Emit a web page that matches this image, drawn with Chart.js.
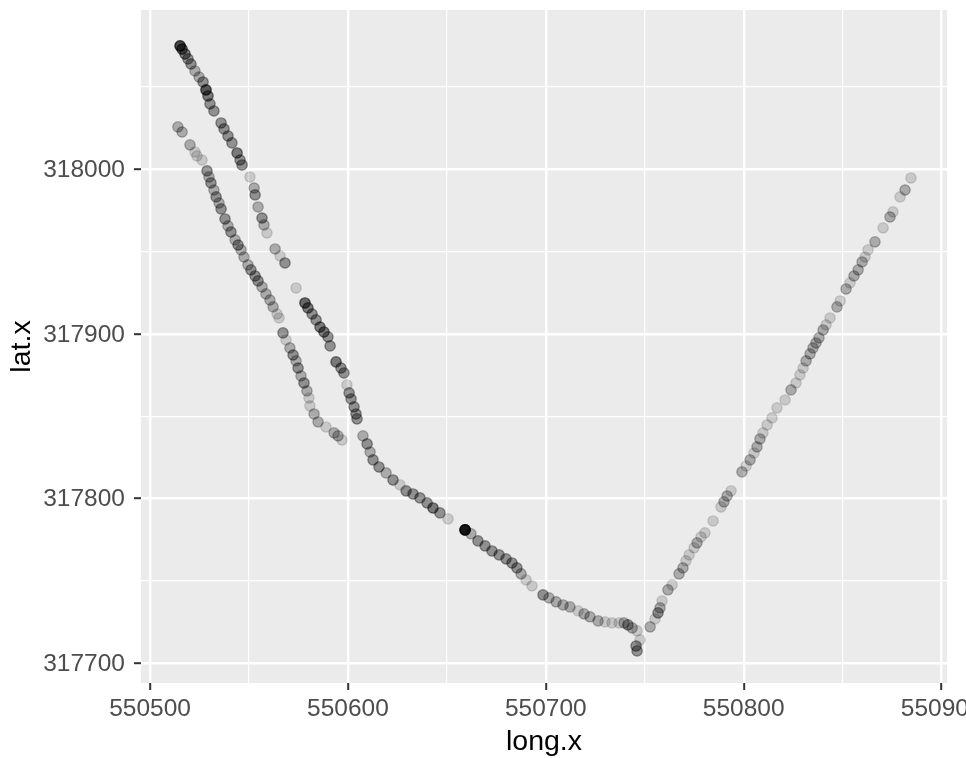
<!DOCTYPE html>
<html>
<head>
<meta charset="utf-8">
<title>lat.x vs long.x</title>
<script src="https://cdn.jsdelivr.net/npm/chart.js@4.4.1/dist/chart.umd.min.js"></script>
<style>
  html, body { margin: 0; padding: 0; background: #ffffff; overflow: hidden; }
  canvas { display: block; }
</style>
</head>
<body>
<canvas id="track" width="966" height="758"></canvas>
<script>
// GPS fixes along the track (projected coordinates).
// nFix = number of fixes logged at (almost) the same spot; stacked
// translucent markers make the stationary stretches look darker.
const longX = [
  // upper western leg, heading south-east
  550515.2, 550516.2, 550517.7, 550519.2, 550520.7, 550522.7, 550524.8, 550526.8,
  550528.3, 550529.3, 550530.3, 550532.3, 550535.9, 550537.4, 550539.4, 550541.4,
  550544.0, 550545.5, 550546.5, 550550.5, 550552.6, 550553.1, 550554.6, 550556.6,
  550557.6, 550559.1, 550563.2, 550565.7, 550568.2, 550573.8, 550578.3, 550579.8,
  550581.9, 550583.9, 550585.9, 550587.9, 550589.9, 550591.0, 550594.0, 550596.5,
  550598.0, 550599.5, 550600.6, 550601.6, 550603.1, 550604.1, 550604.6, 550607.6,
  550609.7, 550611.2, 550612.7, 550615.7, 550619.3, 550622.8, 550626.3, 550629.4,
  550632.9, 550636.4, 550640.0, 550643.0, 550646.5, 550650.6, 550659.2, 550662.2,
  550665.7, 550669.3, 550672.8, 550676.4, 550679.9, 550682.9, 550685.4, 550687.5,
  550690.0, 550693.0, 550698.6, 550701.6, 550705.2, 550708.7, 550712.2, 550716.3,
  550719.3, 550722.3, 550726.4, 550729.9, 550733.4, 550737.0, 550739.5, 550741.5,
  550743.6, 550746.1, 550747.6, 550745.6, 550746.1,
  // eastern leg, heading north-east
  550752.7, 550755.2, 550756.7, 550757.7, 550758.7, 550761.7, 550763.8, 550767.3,
  550769.3, 550770.8, 550772.4, 550774.9, 550776.4, 550778.4, 550780.4, 550784.5,
  550788.5, 550790.0, 550791.6, 550793.6, 550799.1, 550801.2, 550803.2, 550805.2,
  550806.7, 550808.2, 550809.7, 550811.8, 550814.3, 550816.8, 550820.9, 550823.9,
  550826.4, 550828.4, 550830.0, 550831.5, 550833.5, 550835.0, 550836.5, 550838.0,
  550840.1, 550841.6, 550843.6, 550847.1, 550848.7, 550851.7, 550853.7, 550855.7,
  550857.8, 550859.8, 550861.3, 550862.8, 550866.3, 550870.4, 550873.9, 550875.4,
  550879.0, 550881.5, 550884.5,
  // lower western leg
  550514.1, 550516.2, 550520.2, 550522.7, 550523.7, 550526.3, 550528.8, 550529.8,
  550530.8, 550532.3, 550533.4, 550534.9, 550535.9, 550537.9, 550539.4, 550540.9,
  550543.0, 550544.5, 550546.0, 550547.5, 550549.5, 550551.0, 550553.1, 550554.6,
  550556.6, 550558.6, 550560.6, 550562.2, 550564.2, 550565.2, 550567.2, 550568.7,
  550570.7, 550572.3, 550573.8, 550574.8, 550576.3, 550577.8, 550579.3, 550580.3,
  550580.8, 550582.9, 550584.9, 550588.9, 550593.0, 550595.0, 550597.0
];
const latX = [
  318074.9, 318073.0, 318070.0, 318067.0, 318063.9, 318059.7, 318056.0, 318053.0,
  318048.2, 318044.5, 318039.7, 318035.4, 318028.1, 318024.5, 318020.2, 318016.0,
  318009.9, 318005.6, 318002.6, 317995.3, 317988.6, 317984.4, 317977.1, 317970.4,
  317966.2, 317961.3, 317951.6, 317947.4, 317943.1, 317927.9, 317918.8, 317915.8,
  317912.1, 317908.5, 317904.2, 317901.2, 317898.2, 317892.7, 317883.0, 317879.3,
  317876.3, 317869.0, 317864.2, 317860.5, 317855.7, 317851.4, 317848.4, 317838.1,
  317833.2, 317828.3, 317823.5, 317819.2, 317815.6, 317811.3, 317808.3, 317804.7,
  317802.8, 317800.4, 317797.4, 317794.3, 317791.3, 317787.7, 317781.0, 317778.6,
  317774.3, 317771.3, 317768.2, 317765.8, 317763.4, 317760.9, 317757.9, 317754.3,
  317750.6, 317747.0, 317741.5, 317739.7, 317737.3, 317735.4, 317734.2, 317731.8,
  317730.0, 317728.2, 317725.7, 317725.1, 317724.5, 317724.5, 317724.5, 317723.3,
  317721.5, 317719.7, 317714.2, 317710.5, 317707.5,
  317722.1, 317726.9, 317730.6, 317733.6, 317737.9, 317744.6, 317747.6, 317754.3,
  317757.9, 317762.2, 317765.8, 317770.1, 317773.1, 317776.7, 317779.2, 317786.4,
  317794.9, 317798.0, 317801.6, 317804.7, 317816.2, 317819.8, 317823.5, 317827.7,
  317831.4, 317836.2, 317839.9, 317844.7, 317849.0, 317855.1, 317859.9, 317866.0,
  317870.2, 317875.1, 317879.3, 317883.6, 317887.9, 317891.5, 317894.5, 317897.6,
  317902.4, 317905.5, 317909.7, 317916.4, 317920.0, 317927.3, 317931.0, 317935.2,
  317938.9, 317943.7, 317946.7, 317951.0, 317955.9, 317964.4, 317971.0, 317974.1,
  317983.2, 317987.4, 317994.7,
  318025.7, 318022.6, 318014.8, 318010.5, 318008.1, 318005.6, 317999.0, 317995.3,
  317991.7, 317987.4, 317983.2, 317979.5, 317975.9, 317969.8, 317965.6, 317961.9,
  317957.1, 317954.0, 317951.0, 317946.7, 317941.9, 317938.9, 317935.2, 317932.2,
  317928.5, 317924.3, 317920.6, 317916.4, 317912.1, 317909.7, 317900.6, 317896.4,
  317891.5, 317887.2, 317883.6, 317879.3, 317874.5, 317870.2, 317865.4, 317861.1,
  317856.3, 317851.4, 317846.6, 317843.5, 317839.9, 317838.1, 317835.6
];
const nFix = [
  7, 5, 4, 3, 3, 2, 2, 3,
  6, 4, 3, 3, 3, 3, 3, 3,
  4, 3, 3, 1, 2, 3, 2, 3,
  2, 1, 2, 1, 3, 1, 5, 4,
  3, 3, 4, 4, 3, 3, 4, 3,
  3, 1, 3, 3, 3, 3, 3, 2,
  3, 2, 3, 3, 2, 3, 1, 3,
  3, 3, 3, 4, 3, 1, 14, 2,
  3, 3, 3, 3, 3, 3, 3, 2,
  1, 1, 3, 2, 2, 2, 2, 1,
  2, 2, 2, 1, 1, 1, 2, 3,
  2, 1, 1, 3, 3,
  2, 1, 3, 2, 1, 2, 1, 2,
  2, 1, 1, 1, 2, 1, 1, 1,
  1, 2, 2, 1, 2, 1, 2, 1,
  2, 2, 1, 1, 1, 1, 1, 2,
  1, 1, 1, 2, 2, 2, 2, 2,
  2, 1, 1, 2, 1, 2, 1, 2,
  2, 2, 1, 1, 2, 1, 2, 1,
  1, 2, 1,
  2, 2, 2, 1, 1, 1, 3, 2,
  3, 2, 3, 2, 3, 3, 2, 3,
  2, 3, 2, 2, 2, 3, 3, 3,
  2, 2, 2, 2, 1, 1, 3, 1,
  2, 3, 2, 3, 2, 3, 2, 1,
  1, 2, 2, 1, 2, 2, 1
];

// axis extents and labelled ticks
const xRange = [550495.45, 550902.7];
const yRange = [317688.0, 318096.7];
const xTickLabels = [550500, 550600, 550700, 550800, 550900];
const yTickLabels = [317700, 317800, 317900, 318000];

const points = [];
longX.forEach((x, i) => {
  for (let k = 0; k < nFix[i]; k++) points.push({ x: x, y: latX[i] });
});

const FONT = "'Liberation Sans', Arial, Helvetica, sans-serif";

// grey panel behind the grid
const panelBackground = {
  id: 'panelBackground',
  beforeDraw(chart) {
    const { ctx, chartArea: a } = chart;
    ctx.save();
    ctx.fillStyle = '#EBEBEB';
    ctx.fillRect(a.left, a.top, a.right - a.left, a.bottom - a.top);
    ctx.restore();
  }
};

// white major/minor grid; tick marks only at labelled values
function gridFor(labels) {
  return {
    color: '#FFFFFF',
    lineWidth: c => (c.tick && labels.includes(c.tick.value)) ? 2.4 : 1.2,
    drawTicks: true,
    tickLength: 7,
    tickWidth: 2,
    tickColor: c => (c.tick && labels.includes(c.tick.value)) ? '#333333' : 'rgba(0,0,0,0)'
  };
}

new Chart(document.getElementById('track'), {
  type: 'scatter',
  data: {
    datasets: [{
      data: points,
      pointRadius: 5.2,
      pointHoverRadius: 5.2,
      borderWidth: 1.2,
      backgroundColor: 'rgba(0,0,0,0.15)',
      borderColor: 'rgba(0,0,0,0.15)'
    }]
  },
  options: {
    responsive: false,
    devicePixelRatio: 1,
    animation: false,
    events: [],
    layout: { padding: { top: 10, right: 19, bottom: 0, left: 0 } },
    plugins: { legend: { display: false }, tooltip: { enabled: false } },
    scales: {
      x: {
        type: 'linear',
        position: 'bottom',
        min: xRange[0],
        max: xRange[1],
        border: { display: false },
        grid: gridFor(xTickLabels),
        ticks: {
          stepSize: 50,
          includeBounds: false,
          autoSkip: false,
          maxRotation: 0,
          minRotation: 0,
          padding: 5,
          color: '#4D4D4D',
          font: { family: FONT, size: 24.5 },
          callback: v => xTickLabels.includes(v) ? String(v) : ''
        },
        title: {
          display: true,
          text: 'long.x',
          color: '#000000',
          font: { family: FONT, size: 28.5 },
          padding: { top: 0, bottom: -1.3 }
        },
        afterFit: s => { s.height = 75; s.paddingLeft = 0; s.paddingRight = 0; }
      },
      y: {
        type: 'linear',
        position: 'left',
        min: yRange[0],
        max: yRange[1],
        border: { display: false },
        grid: gridFor(yTickLabels),
        ticks: {
          stepSize: 50,
          includeBounds: false,
          autoSkip: false,
          padding: 9,
          labelOffset: 1,
          color: '#4D4D4D',
          font: { family: FONT, size: 24.5 },
          callback: v => yTickLabels.includes(v) ? String(v) : ''
        },
        title: {
          display: true,
          text: 'lat.x',
          color: '#000000',
          font: { family: FONT, size: 28.5 },
          padding: { top: 5, bottom: 0 }
        },
        afterFit: s => { s.width = 141; s.paddingTop = 0; s.paddingBottom = 0; }
      }
    }
  },
  plugins: [panelBackground]
});
</script>
</body>
</html>
